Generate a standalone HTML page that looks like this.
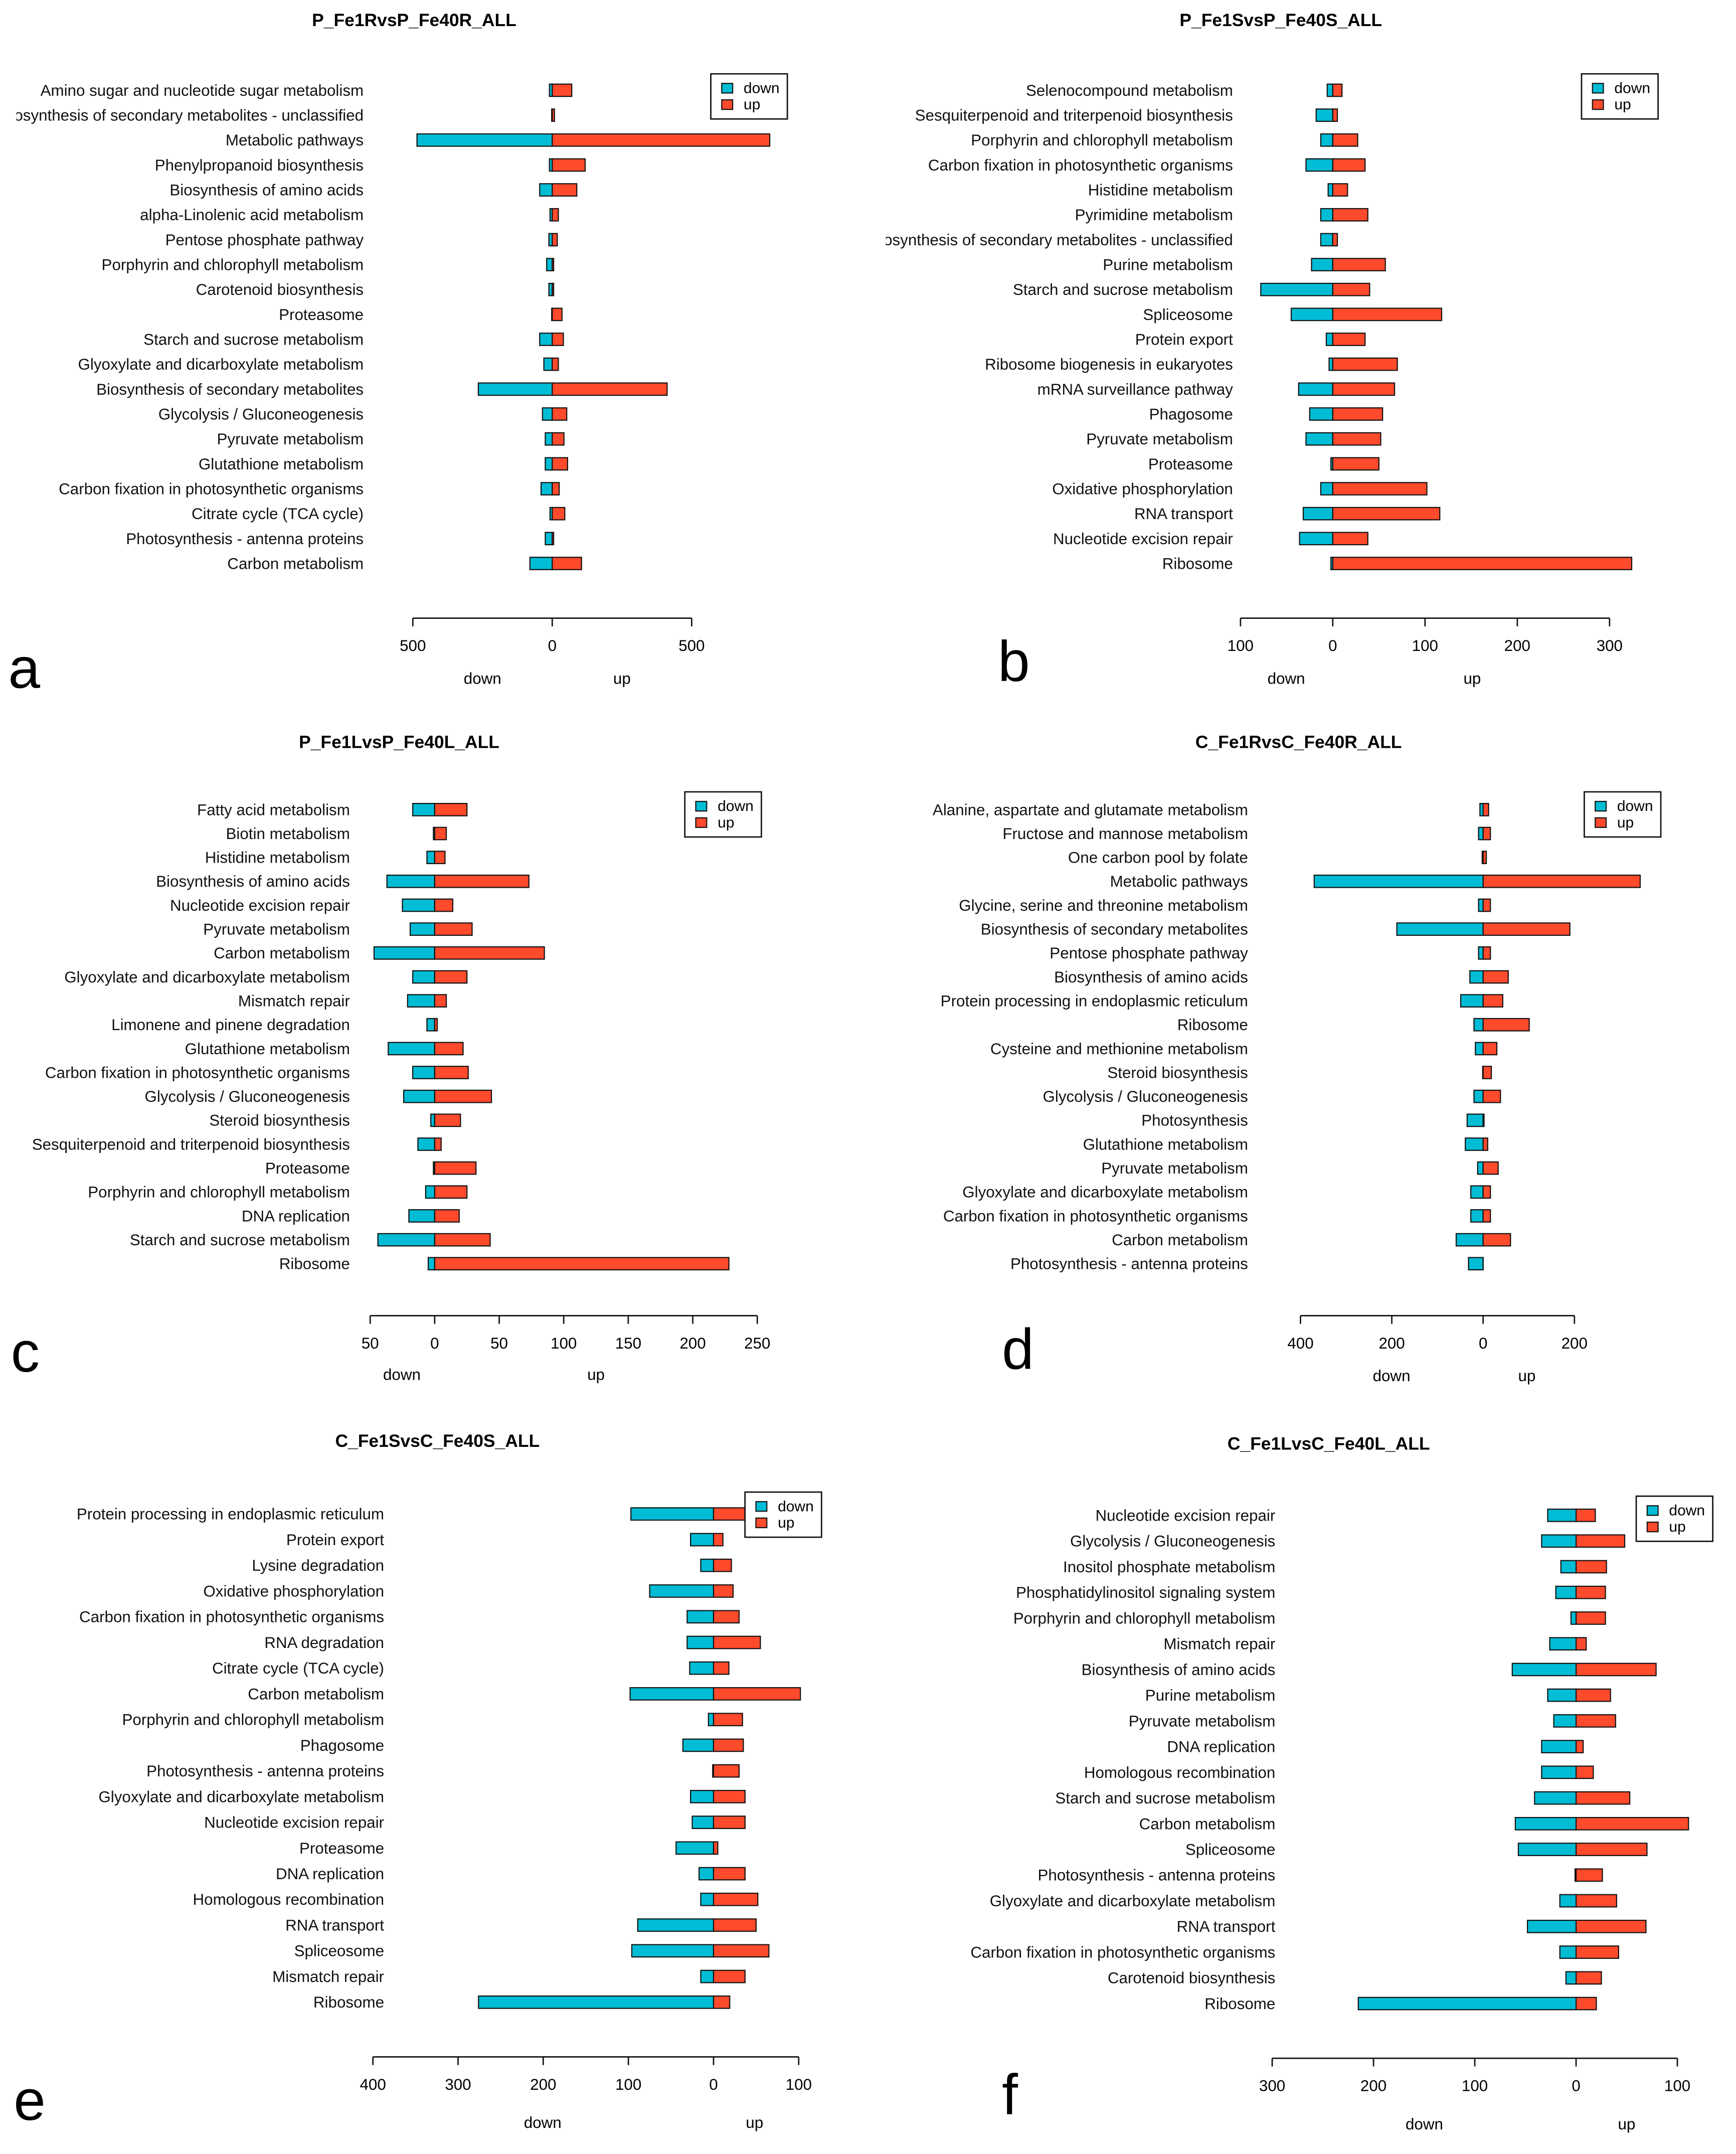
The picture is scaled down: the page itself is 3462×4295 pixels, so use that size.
<!DOCTYPE html>
<html><head><meta charset="utf-8">
<style>
html,body{margin:0;padding:0;background:#fff;}
svg{display:block;}
text{font-family:"Liberation Sans",sans-serif;}
</style></head>
<body>
<svg id="root" xmlns="http://www.w3.org/2000/svg" width="3462" height="4295" viewBox="0 0 1270 1575" preserveAspectRatio="none">
<rect width="1270" height="1575" fill="#fff"/>
<defs>
<clipPath id="clipA"><rect x="12" y="0" width="620" height="520"/></clipPath>
<clipPath id="clipB"><rect x="648" y="0" width="622" height="520"/></clipPath>
</defs>
</svg>
<script>
// ---- Panel a data ----
const catsA = ["Amino sugar and nucleotide sugar metabolism","Biosynthesis of secondary metabolites - unclassified","Metabolic pathways","Phenylpropanoid biosynthesis","Biosynthesis of amino acids","alpha-Linolenic acid metabolism","Pentose phosphate pathway","Porphyrin and chlorophyll metabolism","Carotenoid biosynthesis","Proteasome","Starch and sucrose metabolism","Glyoxylate and dicarboxylate metabolism","Biosynthesis of secondary metabolites","Glycolysis / Gluconeogenesis","Pyruvate metabolism","Glutathione metabolism","Carbon fixation in photosynthetic organisms","Citrate cycle (TCA cycle)","Photosynthesis - antenna proteins","Carbon metabolism"];
const downA = [10,2,485,10,45,8,12,20,12,2,45,30,265,35,25,25,40,8,25,80];
const upA = [70,8,780,118,88,22,18,5,5,35,40,22,412,52,42,55,25,45,5,105];
const ticksA = [-500,0,500];
const tickLabelsA = ["500","0","500"];
// ---- Panel b data ----
const catsB = ["Selenocompound metabolism","Sesquiterpenoid and triterpenoid biosynthesis","Porphyrin and chlorophyll metabolism","Carbon fixation in photosynthetic organisms","Histidine metabolism","Pyrimidine metabolism","Biosynthesis of secondary metabolites - unclassified","Purine metabolism","Starch and sucrose metabolism","Spliceosome","Protein export","Ribosome biogenesis in eukaryotes","mRNA surveillance pathway","Phagosome","Pyruvate metabolism","Proteasome","Oxidative phosphorylation","RNA transport","Nucleotide excision repair","Ribosome"];
const downB = [6,18,13,29,5,13,13,23,78,45,7,4,37,25,29,2,13,32,36,2];
const upB = [10,5,27,35,16,38,5,57,40,118,35,70,67,54,52,50,102,116,38,324];
const ticksB = [-100,0,100,200,300];
const tickLabelsB = ["100","0","100","200","300"];
// ---- Panel c data ----
const catsC = ["Fatty acid metabolism","Biotin metabolism","Histidine metabolism","Biosynthesis of amino acids","Nucleotide excision repair","Pyruvate metabolism","Carbon metabolism","Glyoxylate and dicarboxylate metabolism","Mismatch repair","Limonene and pinene degradation","Glutathione metabolism","Carbon fixation in photosynthetic organisms","Glycolysis / Gluconeogenesis","Steroid biosynthesis","Sesquiterpenoid and triterpenoid biosynthesis","Proteasome","Porphyrin and chlorophyll metabolism","DNA replication","Starch and sucrose metabolism","Ribosome"];
const downC = [17,1,6,37,25,19,47,17,21,6,36,17,24,3,13,1,7,20,44,5];
const upC = [25,9,8,73,14,29,85,25,9,2,22,26,44,20,5,32,25,19,43,228];
const ticksC = [-50,0,50,100,150,200,250];
const tickLabelsC = ["50","0","50","100","150","200","250"];
// ---- Panel d data ----
const catsD = ["Alanine, aspartate and glutamate metabolism","Fructose and mannose metabolism","One carbon pool by folate","Metabolic pathways","Glycine, serine and threonine metabolism","Biosynthesis of secondary metabolites","Pentose phosphate pathway","Biosynthesis of amino acids","Protein processing in endoplasmic reticulum","Ribosome","Cysteine and methionine metabolism","Steroid biosynthesis","Glycolysis / Gluconeogenesis","Photosynthesis","Glutathione metabolism","Pyruvate metabolism","Glyoxylate and dicarboxylate metabolism","Carbon fixation in photosynthetic organisms","Carbon metabolism","Photosynthesis - antenna proteins"];
const downD = [7,10,2,370,10,189,10,29,49,20,17,1,20,35,39,12,27,27,59,32];
const upD = [12,16,7,344,16,190,16,55,43,101,30,18,38,2,10,33,16,16,60,0];
const ticksD = [-400,-200,0,200];
const tickLabelsD = ["400","200","0","200"];
// ---- Panel e data ----
const catsE = ["Protein processing in endoplasmic reticulum","Protein export","Lysine degradation","Oxidative phosphorylation","Carbon fixation in photosynthetic organisms","RNA degradation","Citrate cycle (TCA cycle)","Carbon metabolism","Porphyrin and chlorophyll metabolism","Phagosome","Photosynthesis - antenna proteins","Glyoxylate and dicarboxylate metabolism","Nucleotide excision repair","Proteasome","DNA replication","Homologous recombination","RNA transport","Spliceosome","Mismatch repair","Ribosome"];
const downE = [97,27,15,75,31,31,28,98,6,36,1,27,25,44,17,15,89,96,15,276];
const upE = [45,11,21,23,30,55,18,102,34,35,30,37,37,5,37,52,50,65,37,19];
const ticksE = [-400,-300,-200,-100,0,100];
const tickLabelsE = ["400","300","200","100","0","100"];
// ---- Panel f data ----
const catsF = ["Nucleotide excision repair","Glycolysis / Gluconeogenesis","Inositol phosphate metabolism","Phosphatidylinositol signaling system","Porphyrin and chlorophyll metabolism","Mismatch repair","Biosynthesis of amino acids","Purine metabolism","Pyruvate metabolism","DNA replication","Homologous recombination","Starch and sucrose metabolism","Carbon metabolism","Spliceosome","Photosynthesis - antenna proteins","Glyoxylate and dicarboxylate metabolism","RNA transport","Carbon fixation in photosynthetic organisms","Carotenoid biosynthesis","Ribosome"];
const downF = [28,34,15,20,5,26,63,28,22,34,34,41,60,57,1,16,48,16,10,215];
const upF = [19,48,30,29,29,10,79,34,39,7,17,53,111,70,26,40,69,42,25,20];
const ticksF = [-300,-200,-100,0,100];
const tickLabelsF = ["300","200","100","0","100"];

const NS = "http://www.w3.org/2000/svg";
const root = document.getElementById('root');
function mk(tag, attrs, parent){ const e=document.createElementNS(NS,tag); for(const k in attrs) e.setAttribute(k,attrs[k]); (parent||root).appendChild(e); return e; }

const panels = [
 {id:'a',title:'P_Fe1RvsP_Fe40R_ALL',tx:303,ty:19,cats:catsA,down:downA,up:upA,ticks:ticksA,tl:tickLabelsA,zero:404,ppu:0.204,y0:66,y1:412,lx:266,axY:452,dnX:353,upX:455,dlY:500,leg:[520,54],letter:[6,503],clip:'clipA'},
 {id:'b',title:'P_Fe1SvsP_Fe40S_ALL',tx:937,ty:19,cats:catsB,down:downB,up:upB,ticks:ticksB,tl:tickLabelsB,zero:975,ppu:0.675,y0:66,y1:412,lx:902,axY:452,dnX:941,upX:1077,dlY:500,leg:[1157,54],letter:[730,498],clip:'clipB'},
 {id:'c',title:'P_Fe1LvsP_Fe40L_ALL',tx:292,ty:547,cats:catsC,down:downC,up:upC,ticks:ticksC,tl:tickLabelsC,zero:318,ppu:0.944,y0:592,y1:924,lx:256,axY:962,dnX:294,upX:436,dlY:1009,leg:[501,579],letter:[8,1003]},
 {id:'d',title:'C_Fe1RvsC_Fe40R_ALL',tx:950,ty:547,cats:catsD,down:downD,up:upD,ticks:ticksD,tl:tickLabelsD,zero:1085,ppu:0.334,y0:592,y1:924,lx:913,axY:962,dnX:1018,upX:1117,dlY:1010,leg:[1159,579],letter:[733,1001]},
 {id:'e',title:'C_Fe1SvsC_Fe40S_ALL',tx:320,ty:1058,cats:catsE,down:downE,up:upE,ticks:ticksE,tl:tickLabelsE,zero:522,ppu:0.623,y0:1107,y1:1464,lx:281,axY:1504,dnX:397,upX:552,dlY:1556,leg:[545,1091],letter:[10,1550]},
 {id:'f',title:'C_Fe1LvsC_Fe40L_ALL',tx:972,ty:1060,cats:catsF,down:downF,up:upF,ticks:ticksF,tl:tickLabelsF,zero:1153,ppu:0.741,y0:1108,y1:1465,lx:933,axY:1505,dnX:1042,upX:1190,dlY:1557,leg:[1197,1094],letter:[733,1546]}
];

panels.forEach(p=>{
  const g = mk('g',{});
  
  
  const xs = v => p.zero + v*p.ppu;
  const n = p.cats.length;
  const ys = i => p.y0 + i*(p.y1-p.y0)/(n-1);
  const t = mk('text',{x:p.tx,y:p.ty,'text-anchor':'middle','font-size':'13','font-weight':'bold'},g);
  t.textContent = p.title;
  
  
  const lg = mk('g', p.clip?{'clip-path':'url(#'+p.clip+')'}:{}, g);
  p.cats.forEach((c,i)=>{
    const y = ys(i);
    const lab = mk('text',{x:p.lx,y:y+4,'text-anchor':'end','font-size':'11.5','fill':'#111'},lg);
    lab.textContent = c;
    
    
    const d = p.down[i], u = p.up[i];
    const bd = mk('rect',{x:xs(-d),y:y-4.5,width:Math.max(d*p.ppu,0.01),height:9,fill:'#00bcd4',stroke:'#111','stroke-width':'0.8'},g);
    
    
    const bu = mk('rect',{x:xs(0),y:y-4.5,width:Math.max(u*p.ppu,0.01),height:9,fill:'#ff4a2c',stroke:'#111','stroke-width':'0.8'},g);
    
    
  });
  const x0 = xs(p.ticks[0]), x1 = xs(p.ticks[p.ticks.length-1]);
  const ax = mk('line',{x1:x0,x2:x1,y1:p.axY,y2:p.axY,stroke:'#111','stroke-width':'1'},g);
  
  
  p.ticks.forEach((tv,k)=>{
    mk('line',{x1:xs(tv),x2:xs(tv),y1:p.axY,y2:p.axY+6,stroke:'#111','stroke-width':'1'},g);
    const tl = mk('text',{x:xs(tv),y:p.axY+24,'text-anchor':'middle','font-size':'11.5'},g);
    tl.textContent = p.tl[k];
    
    
  });
  const dn = mk('text',{x:p.dnX,y:p.dlY,'text-anchor':'middle','font-size':'11.5'},g);
  dn.textContent='down';
  
  
  const upl = mk('text',{x:p.upX,y:p.dlY,'text-anchor':'middle','font-size':'11.5'},g);
  upl.textContent='up';
  
  
  const L = mk('g',{},g);
  
  
  mk('rect',{x:p.leg[0],y:p.leg[1],width:56,height:33,fill:'#fff',stroke:'#111','stroke-width':'1'},L);
  mk('rect',{x:p.leg[0]+8,y:p.leg[1]+7,width:8,height:7,fill:'#00bcd4',stroke:'#111','stroke-width':'0.8'},L);
  mk('rect',{x:p.leg[0]+8,y:p.leg[1]+19,width:8,height:7,fill:'#ff4a2c',stroke:'#111','stroke-width':'0.8'},L);
  const l1 = mk('text',{x:p.leg[0]+24,y:p.leg[1]+14,'font-size':'11'},L); l1.textContent='down';
  
  
  const l2 = mk('text',{x:p.leg[0]+24,y:p.leg[1]+26,'font-size':'11'},L); l2.textContent='up';
  
  
  const let_ = mk('text',{x:p.letter[0],y:p.letter[1],'font-size':'42','font-family':'"Liberation Serif",serif'},g);
  let_.textContent = p.id;
  
  
});
</script>
</body></html>
